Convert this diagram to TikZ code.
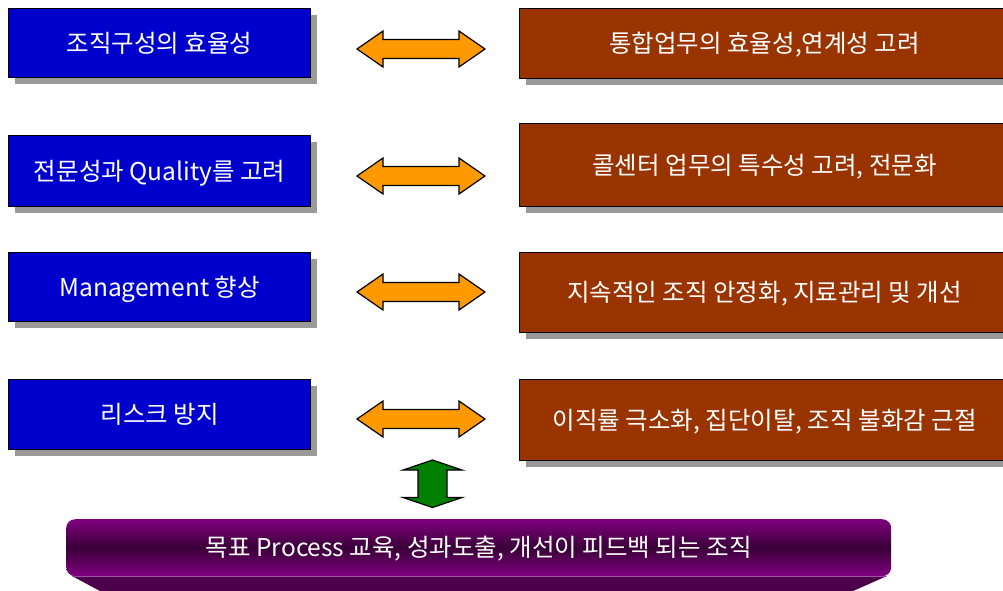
\documentclass[tikz,border=0pt]{standalone}
\usepackage{fontspec}
\setmainfont{Noto Sans CJK KR}
\usetikzlibrary{shadows,calc}
\definecolor{boxblue}{HTML}{0000CC}
\definecolor{boxbrown}{HTML}{993300}
\definecolor{arroworange}{HTML}{FF9900}
\definecolor{arrowgreen}{HTML}{008000}
\definecolor{purplelight}{HTML}{800080}
\definecolor{purpledark}{HTML}{3A0038}
\definecolor{purpleband}{HTML}{4C004C}
\definecolor{purpleline}{HTML}{A050A0}
\definecolor{shadowgray}{HTML}{999999}
\tikzset{
  basebox/.style={draw=black, line width=1.2pt, anchor=north west, text=white,
    font=\fontsize{24.5}{27}\selectfont, inner sep=0pt, text depth=2pt,
    drop shadow={shadow xshift=6pt, shadow yshift=-6pt, fill=shadowgray, opacity=1}},
  bluebox/.style={basebox, fill=boxblue, minimum width=302pt},
  brownbox/.style={basebox, fill=boxbrown, minimum width=490pt},
  orangearrow/.style={fill=arroworange, draw=black, line width=1.2pt, line join=miter},
  greenarrow/.style={fill=arrowgreen, draw=black, line width=1.2pt, line join=miter},
  goalbox/.style={anchor=north west, rounded corners=9pt, minimum width=825pt, minimum height=57pt,
    top color=purplelight, bottom color=purplelight, middle color=purpledark,
    text=white, font=\fontsize{24.5}{27}\selectfont, inner sep=0pt, text depth=2pt}
}
\newcommand{\dblarrowh}[1]{%
  \draw[orangearrow] ($(#1)+(-64,0)$) -- ++(26,-18) -- ++(0,8.5) -- ++(76,0) -- ++(0,-8.5)
    -- ++(26,18) -- ++(-26,18) -- ++(0,-8.5) -- ++(-76,0) -- ++(0,8.5) -- cycle;}
\begin{document}
\begin{tikzpicture}[x=1pt,y=-1pt]
\useasboundingbox (0,0) rectangle (1003,590);
% left boxes
\node[bluebox, minimum height=69pt] (b1) at (8,8) {조직구성의 효율성};
\node[bluebox, minimum height=71pt] (b2) at (8,135) {전문성과 Quality를 고려};
\node[bluebox, minimum height=69pt] (b3) at (8,252) {Management 향상};
\node[bluebox, minimum height=70pt] (b4) at (8,379) {리스크 방지};
% right boxes
\node[brownbox, minimum height=70pt] (r1) at (519,8) {통합업무의 효율성,연계성 고려};
\node[brownbox, minimum height=83pt] (r2) at (519,123) {콜센터 업무의 특수성 고려, 전문화};
\node[brownbox, minimum height=80pt] (r3) at (519,252) {지속적인 조직 안정화, 지료관리 및 개선};
\node[brownbox, minimum height=81pt] (r4) at (519,379) {이직률 극소화, 집단이탈, 조직 불화감 근절};
% orange double arrows
\coordinate (a1) at (421,49);
\coordinate (a2) at (421,176);
\coordinate (a3) at (421,292);
\coordinate (a4) at (421,419);
\dblarrowh{a1}
\dblarrowh{a2}
\dblarrowh{a3}
\dblarrowh{a4}
% bottom goal box
\fill[purpleband] (72,576) -- (887,576) -- (853,591) -- (100,591) -- cycle;
\node[goalbox] (g) at (66,519) {목표 Process 교육, 성과도출, 개선이 피드백 되는 조직};
\draw[purpleline, line width=0.8pt] (74,576.5) -- (885,576.5);
% green vertical double arrow
\coordinate (v) at (432.5,483.5);
\draw[greenarrow] ($(v)+(0,-23.5)$) -- ++(29.5,10) -- ++(-15,0) -- ++(0,27.5) -- ++(15,0)
  -- ++(-29.5,10) -- ++(-29.5,-10) -- ++(15,0) -- ++(0,-27.5) -- ++(-15,0) -- cycle;
\end{tikzpicture}
\end{document}
